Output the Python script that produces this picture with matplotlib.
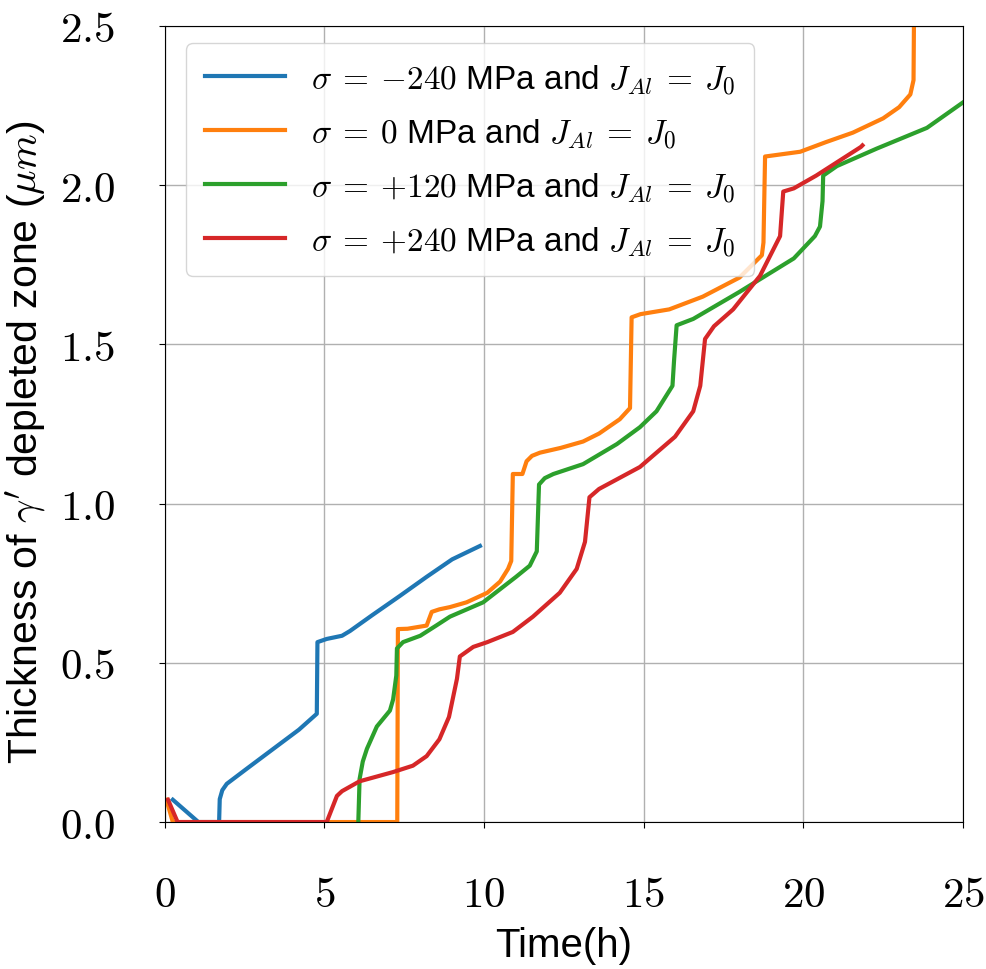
import matplotlib
matplotlib.use("Agg")
import matplotlib.pyplot as plt
from matplotlib.ticker import FuncFormatter, MultipleLocator

plt.rcParams['mathtext.fontset'] = 'cm'
plt.rcParams['font.family'] = ['Liberation Sans', 'DejaVu Sans']

# Data (time in h, thickness in um)
t_m240 = [0.25, 1.05, 1.7, 1.72, 1.8, 1.94, 2.6, 3.4, 4.2, 4.76, 4.78, 5.07, 5.55, 5.8, 6.5, 7.36, 8.2, 9.0, 9.87]
v_m240 = [0.07, 0.0, 0.0, 0.072, 0.10, 0.12, 0.17, 0.23, 0.29, 0.34, 0.565, 0.575, 0.585, 0.60, 0.65, 0.71, 0.77, 0.825, 0.867]

t_0 = [0.05, 0.25, 7.28, 7.3, 7.6, 8.2, 8.36, 8.6, 8.93, 9.45, 10.1, 10.5, 10.75, 10.85, 10.9, 11.2, 11.33, 11.5, 11.75, 12.4, 13.1, 13.6, 14.25, 14.57, 14.62, 14.9, 15.8, 16.85, 18.0, 18.7, 18.75, 18.8, 19.9, 20.7, 21.55, 22.5, 23.0, 23.35, 23.45, 23.47]
v_0 = [0.07, 0.0, 0.0, 0.606, 0.607, 0.617, 0.66, 0.668, 0.675, 0.69, 0.72, 0.755, 0.795, 0.82, 1.093, 1.093, 1.133, 1.15, 1.16, 1.175, 1.195, 1.22, 1.265, 1.30, 1.585, 1.595, 1.61, 1.65, 1.71, 1.78, 1.82, 2.09, 2.105, 2.135, 2.165, 2.21, 2.245, 2.285, 2.33, 2.6]

t_120 = [6.06, 6.1, 6.2, 6.33, 6.64, 7.05, 7.15, 7.25, 7.27, 7.46, 8.0, 8.5, 8.93, 9.97, 11.0, 11.43, 11.65, 11.72, 11.9, 12.17, 13.1, 14.16, 14.88, 15.4, 15.9, 15.95, 16.03, 16.55, 18.0, 19.7, 20.36, 20.52, 20.6, 20.62, 21.05, 22.3, 23.87, 25.0]
v_120 = [0.0, 0.135, 0.19, 0.23, 0.30, 0.35, 0.385, 0.46, 0.545, 0.565, 0.585, 0.617, 0.645, 0.69, 0.77, 0.805, 0.85, 1.06, 1.08, 1.093, 1.124, 1.187, 1.24, 1.29, 1.37, 1.45, 1.56, 1.58, 1.665, 1.77, 1.84, 1.87, 1.95, 2.03, 2.06, 2.115, 2.18, 2.26]

t_p240 = [0.1, 0.4, 5.07, 5.39, 5.55, 6.1, 7.15, 7.77, 8.2, 8.6, 8.9, 9.15, 9.24, 9.66, 10.1, 10.9, 11.53, 12.37, 12.9, 13.16, 13.3, 13.6, 14.88, 15.98, 16.55, 16.77, 16.92, 17.2, 17.8, 18.64, 19.27, 19.37, 19.7, 20.4, 21.8, 21.85]
v_p240 = [0.07, 0.0, 0.0, 0.082, 0.097, 0.128, 0.157, 0.177, 0.207, 0.26, 0.33, 0.45, 0.52, 0.55, 0.565, 0.597, 0.645, 0.72, 0.795, 0.88, 1.02, 1.046, 1.115, 1.21, 1.29, 1.37, 1.517, 1.557, 1.61, 1.715, 1.84, 1.98, 1.99, 2.03, 2.12, 2.125]

labels = [r"$\sigma\:=\:{-}240$ MPa and $J_{Al}\:=\:J_0$",
          r"$\sigma\:=\:0$ MPa and $J_{Al}\:=\:J_0$",
          r"$\sigma\:=\:{+}120$ MPa and $J_{Al}\:=\:J_0$",
          r"$\sigma\:=\:{+}240$ MPa and $J_{Al}\:=\:J_0$"]
colors = ['#1f77b4', '#ff7f0e', '#2ca02c', '#d62728']

fig = plt.figure(figsize=(9.87, 9.70), dpi=100)
ax = fig.add_axes([0.167, 0.1515, 0.8087, 0.8207])

series = [(t_m240, v_m240), (t_0, v_0), (t_120, v_120), (t_p240, v_p240)]
for (t, v), lab, c in zip(series, labels, colors):
    ax.plot(t, v, color=c, lw=3, label=lab)

ax.set_xlim(0, 25)
ax.set_ylim(0, 2.5)
ax.xaxis.set_major_locator(MultipleLocator(5))
ax.yaxis.set_major_locator(MultipleLocator(0.5))
ax.xaxis.set_major_formatter(FuncFormatter(lambda x, p: r"$%d$" % round(x)))
ax.yaxis.set_major_formatter(FuncFormatter(lambda y, p: r"$%.1f$" % y))
ax.tick_params(labelsize=31, length=4)
ax.tick_params(axis='x', pad=34)
ax.tick_params(axis='y', pad=32)
ax.grid(True, color='#b0b0b0', lw=1)

ax.set_xlabel("Time(h)", fontsize=29, labelpad=8)
ax.set_ylabel(r"Thickness of $\gamma'$ depleted zone ($\mu m$)", fontsize=29.5)
ax.yaxis.set_label_coords(-0.146, 0.478)

leg = ax.legend(loc='upper left', fontsize=24, handlelength=2.4, handletextpad=0.8,
                borderpad=0.55, labelspacing=0.6, borderaxespad=0.0,
                bbox_to_anchor=(0.027, 0.978))

fig.savefig("out.png", dpi=100)
